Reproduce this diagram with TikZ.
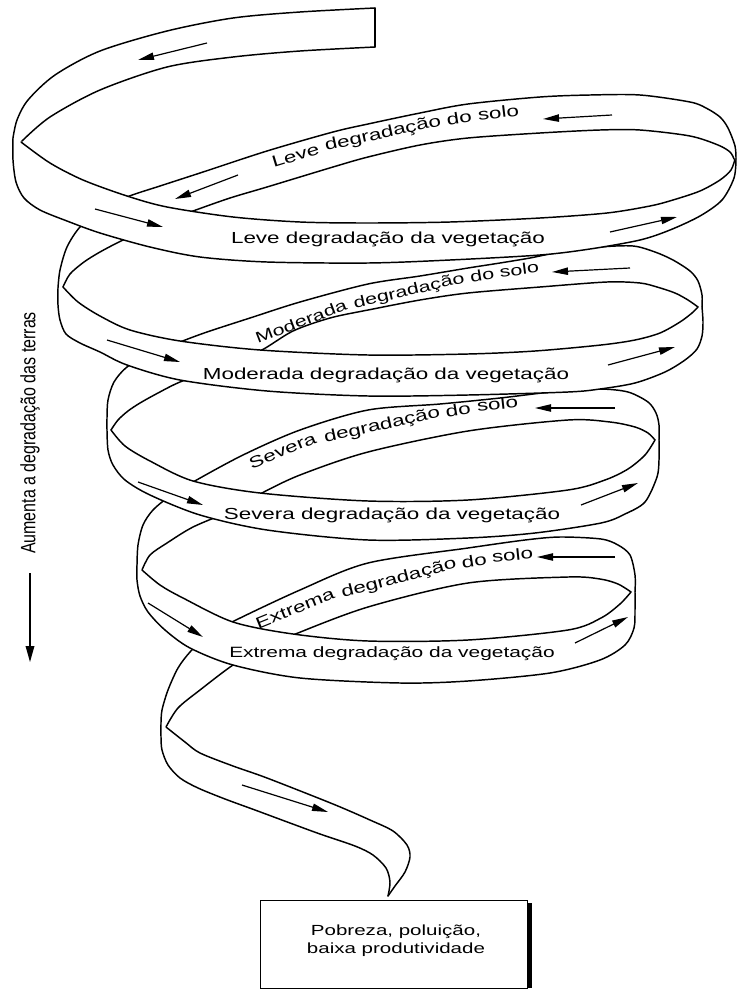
\documentclass[tikz,border=0pt]{standalone}
\usepackage{fontspec}
\usepackage{graphicx}
\setmainfont{Liberation Sans}
\newfontfamily\lbl[FakeStretch=1.4]{Liberation Sans}
\usetikzlibrary{arrows.meta}
\tikzset{
  edge/.style={line width=1.1pt, line cap=round, line join=round},
  flow/.style={line width=0.9pt, -{Triangle[length=12pt,width=5.5pt]}},
  lab/.style={font=\lbl\fontsize{12}{14}\selectfont, inner sep=0pt, anchor=base},
  word/.style={font=\lbl\fontsize{12}{14}\selectfont, inner sep=0pt, anchor=base},
  wordsm/.style={font=\lbl\fontsize{11.5}{14}\selectfont, inner sep=0pt, anchor=base},
}
\newcommand\piece[2]{%
  \fill[white] plot[smooth] coordinates {#1} -- plot[smooth] coordinates {#2} -- cycle;
  \draw[edge] plot[smooth] coordinates {#1};
  \draw[edge] plot[smooth] coordinates {#2};}
\begin{document}
\begin{tikzpicture}[x=0.75pt,y=-0.75pt]
\useasboundingbox (0,0) rectangle (736,989);
\fill[white] (0,0) rectangle (736,989);
% top back strip
\piece{(375,8) (300,12) (233,18) (167,31) (100,51) (55,75) (28,100) (17,120) (13,138)}{(22,141) (50,117) (100,90) (167,67) (233,57) (300,51) (375,47)}
\draw[edge] (375,47) -- (375,8);
% back strips
\piece{(736,159) (735,146) (728,128) (720,117) (706,108) (690,102) (640,95) (590,95) (540,97) (468,104) (420,113) (368,124) (333,132) (267,151) (200,173) (160,186) (127,197) (100,211) (80,227) (67,247) (60,270) (58,288)}{(63,287) (70,274) (84,262) (100,252) (123,240) (160,223) (193,211) (230,198) (267,187) (333,167) (368,157) (420,145) (468,138) (540,133) (600,130) (640,130) (690,136) (718,145) (730,152) (734,159)}
\piece{(702,307) (702,295) (698,281) (690,271) (673,260) (655,252) (633,246) (600,247) (560,252) (530,258) (500,263) (468,268) (420,276) (368,284) (300,302) (250,318) (207,332) (180,342) (150,354) (127,367) (114,382) (108,400) (107,418) (107,430)}{(111,430) (118,420) (128,411) (140,403) (158,393) (180,382) (220,367) (260,351) (293,331) (330,318) (368,310) (420,300) (468,293) (540,287) (607,282) (640,283) (657,287) (675,293) (688,300) (698,307)}
\piece{(659,440) (659,425) (656,413) (648,402) (628,392) (600,389) (560,391) (500,398) (440,404) (368,410) (300,430) (243,455) (193,482) (170,496) (153,510) (143,525) (138,545) (137,565)}{(142,570) (150,555) (167,543) (193,527) (230,511) (260,494) (300,475) (368,452) (468,431) (568,420) (610,422) (635,427) (648,433) (655,440)}
\piece{(635,592) (635,575) (630,555) (618,545) (601,539) (560,537) (525,540) (468,548) (368,563) (300,590) (230,623) (205,638) (190,652) (178,668) (168,690) (162,710) (161,723)}{(166,727) (178,708) (200,690) (233,665) (260,650) (293,635) (368,607) (468,583) (568,577) (600,579) (618,584) (631,592)}
% front strips
\piece{(21,142) (50,163) (83,180) (127,196) (167,207) (233,217) (300,222) (368,223) (450,222) (540,218) (607,213) (650,206) (673,200) (700,191) (720,180) (731,170) (735,159)}{(736,159) (734,178) (722,200) (700,216) (670,230) (640,240) (590,249) (540,255) (450,260) (368,263) (267,262) (200,257) (150,247) (100,233) (67,221) (40,210) (24,198) (16,182) (13,160) (13,138)}
\piece{(63,287) (78,302) (100,316) (130,330) (180,341) (260,350) (368,355) (468,354) (535,351) (601,345) (635,340) (660,333) (680,322) (692,313) (698,307)}{(702,307) (703,322) (702,336) (697,349) (685,360) (665,372) (635,383) (600,389) (568,392) (468,395) (368,396) (267,391) (180,380) (127,365) (100,352) (80,343) (66,334) (60,320) (58,305) (58,288)}
\piece{(111,430) (125,446) (150,461) (193,481) (260,493) (368,501) (468,500) (568,490) (605,480) (628,469) (645,455) (655,440)}{(659,440) (659,460) (657,477) (645,502) (625,514) (601,523) (535,533) (468,538) (368,540) (267,530) (200,515) (150,495) (125,480) (113,465) (108,450) (107,430)}
\piece{(142,570) (160,585) (183,598) (233,622) (293,634) (368,641) (468,640) (568,630) (601,618) (620,604) (631,592)}{(635,592) (635,610) (634,628) (625,645) (600,660) (550,673) (468,681) (400,683) (300,678) (233,665) (190,648) (165,630) (148,612) (140,596) (137,580) (137,565)}
% tail
\piece{(166,727) (185,742) (200,753) (233,766) (267,778) (333,804) (370,820) (393,831) (407,845) (410,857) (405,872) (395,886) (388,896)}{(388,896) (390,882) (386,868) (373,855) (355,846) (320,834) (290,823) (255,810) (225,799) (198,788) (180,778) (168,765) (162,750) (161,737) (161,723)}
% arrows along ribbon
\draw[flow] (207,43) -- (138,60);
\draw[flow] (612,115) -- (543,119);
\draw[flow] (238,175) -- (175,199);
\draw[flow] (95,209) -- (163,227);
\draw[flow] (610,232) -- (677,217);
\draw[flow] (630,268) -- (552,272);
\draw[flow] (107,340) -- (180,362);
\draw[flow] (608,365) -- (675,347);
\draw[flow] (615,408) -- (535,408);
\draw[flow] (138,482) -- (203,505);
\draw[flow] (581,505) -- (638,483);
\draw[flow] (615,557) -- (537,557);
\draw[flow] (148,603) -- (203,637);
\draw[flow] (575,643) -- (628,617);
\draw[flow] (242,785) -- (328,812);
% labels on the front strips
\node[lab] (veg1) at (388,243) {Leve degradação da vegetação};
\node[lab] (veg2) at (386,379) {Moderada degradação da vegetação};
\node[lab] (veg3) at (392,519) {Severa degradação da vegetação};
\node[lab, font=\lbl\fontsize{11.2}{13}\selectfont] (veg4) at (392,657) {Extrema degradação da vegetação};
% labels on the back strips (word by word, following the curve)
\node[word, rotate=17] (s1a) at (297,160.6) {Leve};
\node[word, rotate=12.4] (s1b) at (384,138.1) {degradação};
\node[word, rotate=9.2] (s1c) at (460,123.8) {do};
\node[word, rotate=7] (s1d) at (499,118) {solo};
\node[wordsm, rotate=21] (s2a) at (303,326.6) {Moderada};
\node[wordsm, rotate=13.2] (s2b) at (410,295.4) {degradação};
\node[wordsm, rotate=9.5] (s2c) at (483,280.6) {do};
\node[wordsm, rotate=7.5] (s2d) at (520,274.9) {solo};
\node[word, rotate=22] (s3a) at (284.6,455.7) {Severa};
\node[word, rotate=12.7] (s3b) at (383,429.6) {degradação};
\node[word, rotate=9.7] (s3c) at (459,415.2) {do};
\node[word, rotate=6.3] (s3d) at (498,409.7) {solo};
\node[word, rotate=22] (s4a) at (297,613.4) {Extrema};
\node[word, rotate=14.7] (s4b) at (400,582.7) {degradação};
\node[word, rotate=9.2] (s4c) at (475,566.3) {do};
\node[word, rotate=6] (s4d) at (513,560.5) {solo};
% side arrow and caption
\node[rotate=90, font=\fontsize{12}{14}\selectfont, inner sep=0pt] (side) at (30,433) {\scalebox{1}[1.3]{Aumenta a degradação das terras}};
\coordinate (sa) at (30,573);
\coordinate (sb) at (30,662);
\draw[line width=1pt, -{Triangle[length=12pt,width=6.5pt]}] (sa) -- (sb);
% result box
\fill (526,903) rectangle (532,988);
\node[draw, line width=1.1pt, fill=white, minimum width=267*0.75pt, minimum height=88*0.75pt, anchor=north west, inner sep=0pt] (box) at (260,900) {};
\node[font=\lbl\fontsize{11}{13.5}\selectfont, align=center] (boxtext) at (396,941) {Pobreza, poluição,\\baixa produtividade};
\end{tikzpicture}
\end{document}
